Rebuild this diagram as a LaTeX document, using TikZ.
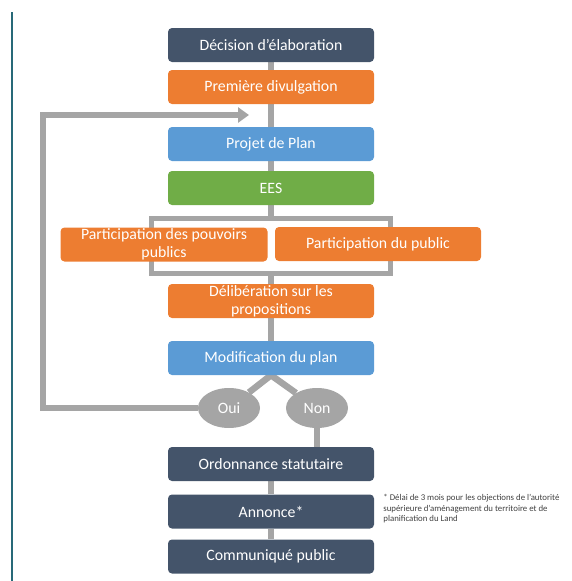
\documentclass[tikz,border=0pt]{standalone}
\usepackage{fontspec}
\setmainfont{Carlito}
\usepackage{xcolor}
\usetikzlibrary{arrows.meta,positioning,shapes.geometric,backgrounds}
\definecolor{slatenavy}{RGB}{68,84,106}
\definecolor{steporange}{RGB}{237,125,49}
\definecolor{stepblue}{RGB}{91,155,213}
\definecolor{stepgreen}{RGB}{112,173,71}
\definecolor{linkgrey}{RGB}{165,165,165}
\definecolor{marginteal}{RGB}{40,105,120}

\begin{document}
\begin{tikzpicture}[
    x=1pt, y=-1pt,
    box/.style={rectangle, rounded corners=4pt, minimum width=206pt, minimum height=34pt, inner sep=0pt, text=white, align=center, font=\fontsize{15.8}{18}\selectfont},
    navybox/.style={box, fill=slatenavy},
    orangebox/.style={box, fill=steporange},
    bluebox/.style={box, fill=stepblue},
    greenbox/.style={box, fill=stepgreen},
    choice/.style={ellipse, fill=linkgrey, minimum width=62pt, minimum height=40pt, inner sep=0pt, text=white, font=\fontsize{15.8}{18}\selectfont},
    link/.style={draw=linkgrey, line width=6.5pt},
    note/.style={align=left, inner sep=0pt, text=black!75, font=\fontsize{8.8}{10.5}\selectfont}
]
\useasboundingbox (0,0) rectangle (572,581);
\draw[marginteal, line width=1.2pt] (12,12) -- (12,581);

\node[navybox] (decision) at (271,45) {Décision d'élaboration};
\node[orangebox] (divulgation) at (271,87) {Première divulgation};
\node[bluebox] (projet) at (271,144) {Projet de Plan};
\node[greenbox] (ees) at (271,188) {EES};
\node[orangebox, minimum width=207pt] (pouvoirs) at (164,244.5) {Participation des pouvoirs\\publics};
\node[orangebox] (public) at (378,244) {Participation du public};
\node[orangebox] (deliberation) at (271,301) {Délibération sur les\\propositions};
\node[bluebox] (modification) at (271,358) {Modification du plan};
\node[choice] (oui) at (229,408) {Oui};
\node[choice] (non) at (317,408) {Non};
\node[navybox] (ordonnance) at (271,464) {Ordonnance statutaire};
\node[navybox] (annonce) at (271,511.5) {Annonce*};
\node[navybox] (communique) at (271,556.5) {Communiqué public};
\node[note, right=9pt of annonce.north east, anchor=north west] (delai) {* Délai de 3 mois pour les objections de l'autorité\\supérieure d'aménagement du territoire et de\\planification du Land};

\coordinate (framenw) at (151,218);
\coordinate (framese) at (390,273);
\coordinate (loopcorner) at (43,115);
\coordinate (backtip) at (249,115);

\begin{scope}[on background layer]
\draw[link] (decision) -- (divulgation);
\draw[link] (divulgation) -- (projet);
\draw[link] (projet) -- (ees);
\draw[link] (ees.south) -- (ees.south |- framenw);
\draw[link, line width=5pt] (framenw) rectangle (framese);
\draw[link] (deliberation.north |- framese) -- (deliberation.north);
\draw[link] (deliberation) -- (modification);
\draw[link] (modification.south) -- (oui);
\draw[link] (modification.south) -- (non);
\draw[link] (non.south) -- (non.south |- ordonnance.north);
\draw[link] (ordonnance) -- (annonce);
\draw[link] (annonce) -- (communique);
\draw[link, -{Triangle[length=11pt, width=15pt]}] (oui.west) -| (loopcorner) -- (backtip);
\end{scope}
\end{tikzpicture}
\end{document}
